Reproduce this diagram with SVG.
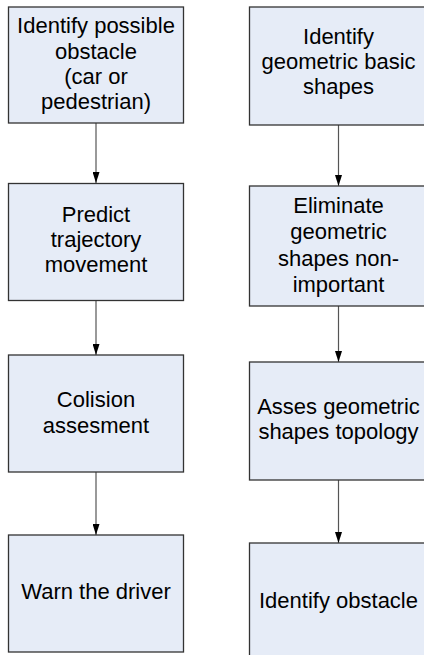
<svg xmlns="http://www.w3.org/2000/svg" width="424" height="655" viewBox="0 0 424 655">
  <defs>
    <marker id="arrow" markerWidth="11" markerHeight="7" refX="11" refY="3.5" orient="auto" markerUnits="userSpaceOnUse" viewBox="0 0 11 7">
      <path d="M0,0 L11,3.5 L0,7 Z" fill="#000"/>
    </marker>
  </defs>
  <style>
    .box { fill: #e6ecf7; stroke: #333; stroke-width: 1.3; }
    .lbl { font-family: "Liberation Sans", Arial, sans-serif; font-size: 22px; fill: #000; text-anchor: middle; }
    .conn line { stroke: #555; stroke-width: 1.2; marker-end: url(#arrow); }
  </style>
  <rect width="424" height="655" fill="#fff"/>

  <!-- connectors -->
  <g class="conn">
    <line x1="96" y1="123" x2="96" y2="183"/>
    <line x1="96" y1="300" x2="96" y2="355"/>
    <line x1="96" y1="472" x2="96" y2="535"/>
    <line x1="338.5" y1="125" x2="338.5" y2="186"/>
    <line x1="338.5" y1="306" x2="338.5" y2="362"/>
    <line x1="338.5" y1="480" x2="338.5" y2="543"/>
  </g>

  <!-- left column -->
  <g id="identify-possible-obstacle">
    <rect class="box" x="8.5" y="7" width="175" height="116"/>
    <text class="lbl"><tspan x="96" y="33.3">Identify possible</tspan><tspan x="96" y="59">obstacle</tspan><tspan x="96" y="84">(car or</tspan><tspan x="96" y="108.5">pedestrian)</tspan></text>
  </g>
  <g id="predict-trajectory">
    <rect class="box" x="8.5" y="183.5" width="175" height="117"/>
    <text class="lbl"><tspan x="96" y="221.7">Predict</tspan><tspan x="96" y="246.7">trajectory</tspan><tspan x="96" y="272">movement</tspan></text>
  </g>
  <g id="colision-assesment">
    <rect class="box" x="8.5" y="355" width="175" height="117"/>
    <text class="lbl"><tspan x="96" y="407.3">Colision</tspan><tspan x="96" y="433.3">assesment</tspan></text>
  </g>
  <g id="warn-driver">
    <rect class="box" x="8.5" y="535" width="175" height="117"/>
    <text class="lbl"><tspan x="96" y="599.3">Warn the driver</tspan></text>
  </g>

  <!-- right column -->
  <g id="identify-basic-shapes">
    <rect class="box" x="249.5" y="7" width="180" height="118"/>
    <text class="lbl"><tspan x="338.5" y="43.5">Identify</tspan><tspan x="338.5" y="68.5">geometric basic</tspan><tspan x="338.5" y="94">shapes</tspan></text>
  </g>
  <g id="eliminate-shapes">
    <rect class="box" x="249.5" y="186" width="180" height="120"/>
    <text class="lbl"><tspan x="338.5" y="212.5">Eliminate</tspan><tspan x="338.5" y="238.5">geometric</tspan><tspan x="338.5" y="265.5">shapes non-</tspan><tspan x="338.5" y="291.5">important</tspan></text>
  </g>
  <g id="asses-topology">
    <rect class="box" x="249.5" y="362" width="180" height="118"/>
    <text class="lbl"><tspan x="338.5" y="413.5">Asses geometric</tspan><tspan x="338.5" y="438.5">shapes topology</tspan></text>
  </g>
  <g id="identify-obstacle">
    <rect class="box" x="249.5" y="543" width="180" height="120"/>
    <text class="lbl"><tspan x="338.5" y="608.3">Identify obstacle</tspan></text>
  </g>
</svg>
